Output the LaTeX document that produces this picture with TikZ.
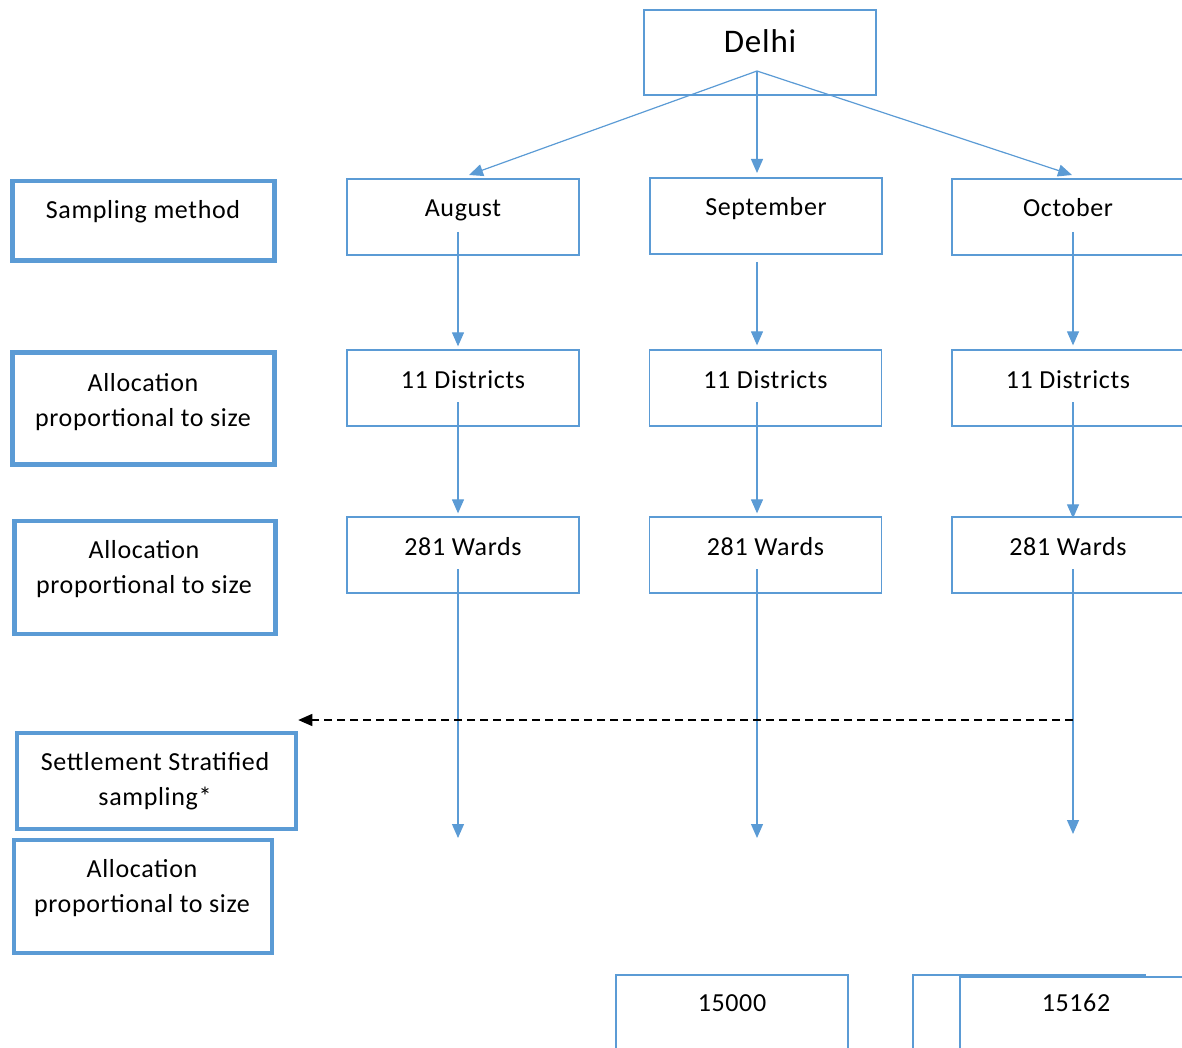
\documentclass[tikz,border=0pt]{standalone}
\usepackage{fontspec}
\setmainfont[LetterSpace=2.5]{Carlito}
\usetikzlibrary{arrows.meta}
\definecolor{officeblue}{HTML}{5B9BD5}
\tikzset{
  stagebox/.style={draw=officeblue, line width=1.3pt, fill=white, minimum width=232pt, minimum height=76pt,
    text height=18pt, text depth=18pt, inner sep=0pt, font=\fontsize{26}{31}\selectfont},
  sidebox/.style={draw=officeblue, line width=4.5pt, inner sep=0pt},
  sidetext/.style={align=center, inner sep=0pt, font=\fontsize{26}{35}\selectfont},
  flow/.style={officeblue, line width=1.2pt, -{Triangle[length=14pt,width=12pt]}},
  backlink/.style={black, line width=1.3pt, dash pattern=on 8pt off 5pt, -{Triangle[length=14pt,width=12pt]}}
}
\begin{document}
\begin{tikzpicture}[x=1pt,y=-1pt]
\clip (0,0) rectangle (1182,1048);
% left column
\node [sidebox, minimum width=262pt, minimum height=79.5pt] (sampbox) at (143.5,221) {};
\node [sidetext] (samptext) at (143,212) {Sampling method};
\node [sidebox, minimum width=262pt, minimum height=112pt] (alloconebox) at (143.5,408.5) {};
\node [sidetext] (allocone) at (143,402) {Allocation\\proportional to size};
\node [sidebox, minimum width=261pt, minimum height=113pt] (alloctwobox) at (145,577.5) {};
\node [sidetext] (alloctwo) at (144,569.5) {Allocation\\proportional to size};
\node [sidebox, minimum width=279pt, minimum height=96pt] (settlebox) at (156.5,781) {};
\node [sidetext] (settle) at (155,781.5) {Settlement Stratified\\sampling*};
\node [sidebox, minimum width=258pt, minimum height=113pt] (allocthreebox) at (143,896.5) {};
\node [sidetext] (allocthree) at (142,888.5) {Allocation\\proportional to size};

% top
\node [stagebox, minimum height=85pt, font=\fontsize{33}{40}\selectfont] (delhi) at (760,52.5) {Delhi};

% months
\node [stagebox] (aug) at (463,217) {August};
\node [stagebox] (sep) at (766,216) {September};
\node [stagebox] (oct) at (1068,217) {October};

% districts
\node [stagebox] (distaug) at (463,388) {11 Districts};
\node [stagebox] (distsep) at (765.5,388) {11 Districts};
\node [stagebox] (distoct) at (1068,388) {11 Districts};

% wards
\node [stagebox] (wardaug) at (463,555) {281 Wards};
\node [stagebox] (wardsep) at (765.5,555) {281 Wards};
\node [stagebox] (wardoct) at (1068,555) {281 Wards};

% totals
\node [stagebox, text depth=22pt] (totsep) at (732,1013) {15000};
\node [stagebox] (totback) at (1029,1013) {};
\node [stagebox, text depth=26pt] (totoct) at (1076,1015) {15162};

% connexions
\coordinate (delhiroot) at (757,71);
\coordinate (augin) at (469,175);
\coordinate (sepin) at (757,173);
\coordinate (octin) at (1072,175);
\draw [flow] (delhiroot) -- (augin);
\draw [flow] (delhiroot) -- (sepin);
\draw [flow] (delhiroot) -- (octin);

\coordinate (augout) at (458,232);
\coordinate (sepout) at (757,262);
\coordinate (octout) at (1073,232);
\draw [flow, shorten >=3pt] (augout) -- (augout |- distaug.north);
\draw [flow, shorten >=4pt] (sepout) -- (sepout |- distsep.north);
\draw [flow, shorten >=4pt] (octout) -- (octout |- distoct.north);

\coordinate (distaugout) at (458,402);
\coordinate (distsepout) at (757,402);
\coordinate (distoctout) at (1073,402);
\draw [flow, shorten >=3pt] (distaugout) -- (distaugout |- wardaug.north);
\draw [flow, shorten >=3pt] (distsepout) -- (distsepout |- wardsep.north);
\draw [flow, shorten >=-2pt] (distoctout) -- (distoctout |- wardoct.north);

\coordinate (wardaugout) at (458,569);
\coordinate (wardsepout) at (757,569);
\coordinate (wardoctout) at (1073,569);
\coordinate (augend) at (458,838);
\coordinate (sepend) at (757,838);
\coordinate (octend) at (1073,834);
\draw [flow] (wardaugout) -- (augend);
\draw [flow] (wardsepout) -- (sepend);
\draw [flow] (wardoctout) -- (octend);

\coordinate (backstart) at (1073,720);
\draw [backlink] (backstart) -- (backstart -| settlebox.east);
\end{tikzpicture}
\end{document}
